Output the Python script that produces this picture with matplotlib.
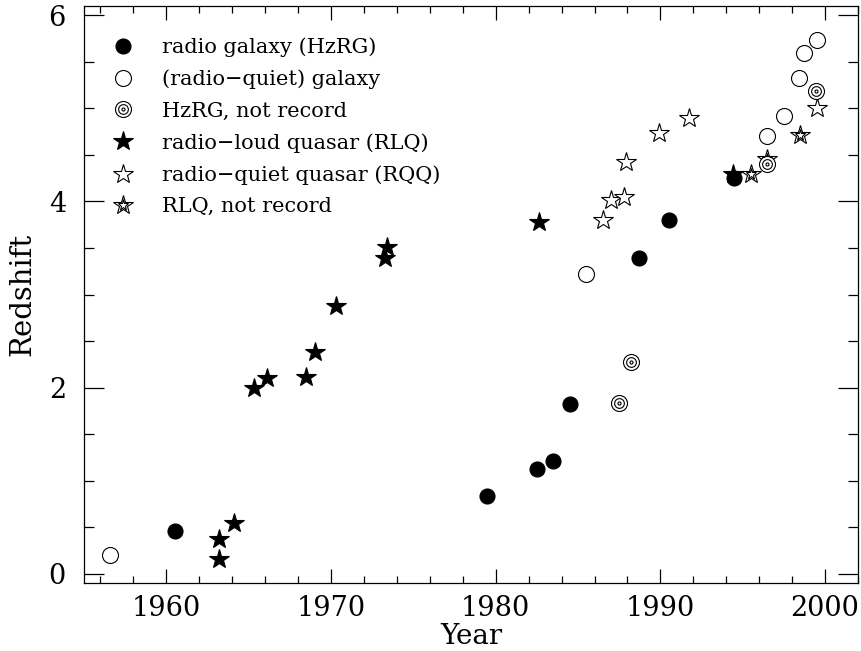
import matplotlib
matplotlib.use("Agg")
import matplotlib.pyplot as plt
from matplotlib.ticker import MultipleLocator
from matplotlib.legend_handler import HandlerTuple

plt.rcParams['font.family'] = 'DejaVu Serif'

# ---- data ----
rg_year = [1960.5, 1979.5, 1982.5, 1983.5, 1984.5, 1988.7, 1990.5, 1994.45]
rg_z = [0.46, 0.84, 1.13, 1.21, 1.82, 3.39, 3.80, 4.25]

rqg_year = [1956.6, 1985.5, 1996.5, 1997.5, 1998.4, 1998.7, 1999.5]
rqg_z = [0.20, 3.22, 4.70, 4.92, 5.33, 5.60, 5.73]

hzrgnr_year = [1987.5, 1988.2, 1996.45, 1999.45]
hzrgnr_z = [1.83, 2.27, 4.40, 5.19]

rlq_year = [1963.2, 1963.2, 1964.1, 1965.3, 1966.1, 1968.5, 1969.0, 1970.3,
            1973.3, 1973.4, 1982.65, 1994.4]
rlq_z = [0.16, 0.37, 0.54, 2.00, 2.10, 2.11, 2.38, 2.88, 3.39, 3.51, 3.78, 4.29]

rqq_year = [1986.5, 1987.0, 1987.8, 1987.9, 1989.9, 1991.75, 1999.5]
rqq_z = [3.80, 4.02, 4.05, 4.42, 4.74, 4.90, 5.00]

rlqnr_year = [1995.5, 1996.45, 1998.45]
rlqnr_z = [4.30, 4.46, 4.71]

labels = ["radio galaxy (HzRG)", "(radio\u2212quiet) galaxy", "HzRG, not record",
          "radio\u2212loud quasar (RLQ)", "radio\u2212quiet quasar (RQQ)", "RLQ, not record"]

# ---- figure ----
W, H = 861, 651
fig = plt.figure(figsize=(W / 100, H / 100), dpi=100)
L, R, T, B = 84, 858, 6, 583
ax = fig.add_axes([L / W, 1 - B / H, (R - L) / W, (B - T) / H])

ew = 0.8
star_ms = 14.8

def plot_star_open(x, y, ms=star_ms, z=3):
    return ax.plot(x, y, ls='none', marker='*', ms=ms, mfc='white', mec='black', mew=ew, zorder=z)[0]

# RLQ filled stars
h_rlq, = ax.plot(rlq_year, rlq_z, ls='none', marker='*', ms=star_ms, mfc='black',
                 mec='black', mew=ew, zorder=3)
# RQQ open stars
h_rqq = plot_star_open(rqq_year, rqq_z)
# RLQ not record
h_nr1 = plot_star_open(rlqnr_year, rlqnr_z, z=3)
h_nr2 = ax.plot(rlqnr_year, rlqnr_z, ls='none', marker='*', ms=star_ms * 0.55,
                mfc='none', mec='black', mew=ew, zorder=3.1)[0]
# radio galaxies
h_rg, = ax.plot(rg_year, rg_z, ls='none', marker='o', ms=10.8, mfc='black',
                mec='black', mew=ew, zorder=4)
h_rqg, = ax.plot(rqg_year, rqg_z, ls='none', marker='o', ms=11.5, mfc='white',
                 mec='black', mew=ew, zorder=4)
# HzRG not record (concentric)
h_c1, = ax.plot(hzrgnr_year, hzrgnr_z, ls='none', marker='o', ms=11.5, mfc='white',
                mec='black', mew=ew, zorder=4)
h_c2, = ax.plot(hzrgnr_year, hzrgnr_z, ls='none', marker='o', ms=7.0, mfc='none',
                mec='black', mew=ew, zorder=4.1)
h_c3, = ax.plot(hzrgnr_year, hzrgnr_z, ls='none', marker='o', ms=2.2, mfc='none',
                mec='black', mew=ew, zorder=4.2)

ax.set_xlim(1955, 2002)
ax.set_ylim(-0.1, 6.1)

ax.xaxis.set_major_locator(MultipleLocator(10))
ax.xaxis.set_minor_locator(MultipleLocator(2))
ax.yaxis.set_major_locator(MultipleLocator(2))
ax.yaxis.set_minor_locator(MultipleLocator(0.5))

ax.tick_params(axis='both', which='both', direction='in', top=True, right=True,
               color='black', width=0.9)
ax.tick_params(axis='x', which='major', length=10, pad=9, labelsize=19.5)
ax.tick_params(axis='x', which='minor', length=5)
ax.tick_params(axis='y', which='major', length=14.4, pad=13, labelsize=19.5)
ax.tick_params(axis='y', which='minor', length=7.2)
for s in ax.spines.values():
    s.set_linewidth(0.9)
    s.set_color('black')

ax.set_xlabel('Year', fontsize=20)
ax.set_ylabel('Redshift', fontsize=21)
ax.xaxis.set_label_coords(0.5, -0.069)
ax.yaxis.set_label_coords(-0.062, 0.5)

handles = [h_rg, h_rqg, (h_c1, h_c2, h_c3), h_rlq, h_rqq, (h_nr1, h_nr2)]
leg = ax.legend(handles, labels, loc='upper left', bbox_to_anchor=(0.031, 0.946),
                frameon=False, fontsize=15, borderpad=0, borderaxespad=0,
                handlelength=1.45, handletextpad=1.15, labelspacing=0.6, numpoints=1,
                handler_map={tuple: HandlerTuple(ndivide=1, pad=0)})

fig.savefig('out.png', dpi=100)
